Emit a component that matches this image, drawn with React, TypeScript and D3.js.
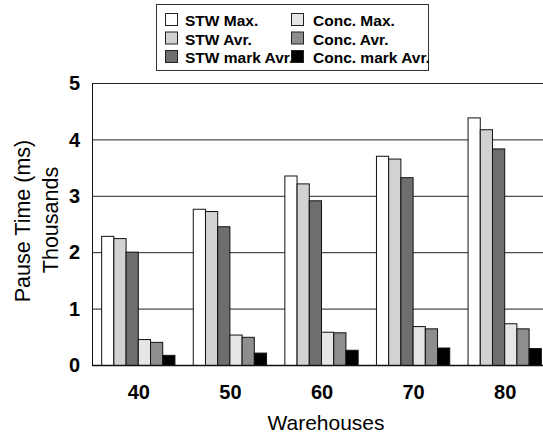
import { useEffect, useRef } from "react";
import * as d3 from "d3";

const warehouses = ["40", "50", "60", "70", "80"];
const seriesNames = [
  "STW Max.",
  "STW Avr.",
  "STW mark Avr.",
  "Conc. Max.",
  "Conc. Avr.",
  "Conc. mark Avr.",
];
const seriesColors = ["#ffffff", "#d2d2d2", "#6e6e6e", "#e6e6e6", "#8e8e8e", "#000000"];
// values in thousands of ms, one array per series
const stwMax = [2.29, 2.77, 3.36, 3.71, 4.39];
const stwAvr = [2.25, 2.73, 3.22, 3.66, 4.18];
const stwMarkAvr = [2.01, 2.46, 2.92, 3.33, 3.84];
const concMax = [0.46, 0.54, 0.59, 0.69, 0.74];
const concAvr = [0.41, 0.5, 0.58, 0.65, 0.65];
const concMarkAvr = [0.18, 0.22, 0.27, 0.31, 0.3];
const yTicks = [0, 1, 2, 3, 4, 5];

const App = () => {
  const ref = useRef<SVGSVGElement>(null);

  useEffect(() => {
    const svg = d3.select(ref.current);
    svg.selectAll("*").remove();
    const font = "'Liberation Sans', Arial, sans-serif";
    const allSeries = [stwMax, stwAvr, stwMarkAvr, concMax, concAvr, concMarkAvr];

    const x = d3.scaleBand().domain(warehouses).range([92, 550]).paddingInner(0.2).paddingOuter(0.1);
    const xInner = d3.scaleBand().domain(seriesNames).range([0, x.bandwidth()]);
    const y = d3.scaleLinear().domain([0, 5]).range([365, 83]);

    // grid lines
    svg
      .append("g")
      .selectAll("line")
      .data(yTicks.slice(1))
      .enter()
      .append("line")
      .attr("x1", 92)
      .attr("x2", 550)
      .attr("y1", (d) => y(d) + 0.5)
      .attr("y2", (d) => y(d) + 0.5)
      .attr("stroke", "#222")
      .attr("stroke-width", 1);

    // bars
    const groups = svg
      .append("g")
      .selectAll("g")
      .data(warehouses)
      .enter()
      .append("g")
      .attr("transform", (d) => `translate(${x(d)},0)`);
    groups
      .selectAll("rect")
      .data((_, i) => seriesNames.map((s, j) => ({ s, j, v: allSeries[j][i] })))
      .enter()
      .append("rect")
      .attr("x", (d) => xInner(d.s)! + 0.5)
      .attr("y", (d) => y(d.v) + 0.5)
      .attr("width", xInner.bandwidth())
      .attr("height", (d) => y(0) - y(d.v))
      .attr("fill", (d) => seriesColors[d.j])
      .attr("stroke", "#111")
      .attr("stroke-width", 1);

    // axes lines
    svg.append("line").attr("x1", 92.5).attr("x2", 92.5).attr("y1", 83).attr("y2", 366).attr("stroke", "#111");
    svg.append("line").attr("x1", 92).attr("x2", 550).attr("y1", 365.5).attr("y2", 365.5).attr("stroke", "#111").attr("stroke-width", 1.5);

    // y tick labels
    svg
      .append("g")
      .selectAll("text")
      .data(yTicks)
      .enter()
      .append("text")
      .attr("x", 80)
      .attr("y", (d) => y(d))
      .attr("dy", "0.36em")
      .attr("text-anchor", "end")
      .attr("font-family", font)
      .attr("font-weight", "bold")
      .attr("font-size", 20)
      .text((d) => d);

    // x tick labels
    svg
      .append("g")
      .selectAll("text")
      .data(warehouses)
      .enter()
      .append("text")
      .attr("x", (d) => x(d)! + x.bandwidth() / 2 + 1)
      .attr("y", 399)
      .attr("text-anchor", "middle")
      .attr("font-family", font)
      .attr("font-weight", "bold")
      .attr("font-size", 20)
      .text((d) => d);

    svg
      .append("text")
      .attr("x", 326)
      .attr("y", 430)
      .attr("text-anchor", "middle")
      .attr("font-family", font)
      .attr("font-size", 21)
      .text("Warehouses");

    svg
      .append("text")
      .attr("transform", "translate(30,221) rotate(-90)")
      .attr("text-anchor", "middle")
      .attr("font-family", font)
      .attr("font-size", 21.5)
      .text("Pause Time (ms)");
    svg
      .append("text")
      .attr("transform", "translate(58,220) rotate(-90)")
      .attr("text-anchor", "middle")
      .attr("font-family", font)
      .attr("font-size", 21.5)
      .text("Thousands");

    // legend
    const legend = svg.append("g");
    legend
      .append("rect")
      .attr("x", 156.5)
      .attr("y", 4.5)
      .attr("width", 272)
      .attr("height", 66)
      .attr("fill", "#fff")
      .attr("stroke", "#333");
    const rows = [13, 31.5, 50];
    const items = legend
      .selectAll("g")
      .data(seriesNames)
      .enter()
      .append("g")
      .attr("transform", (_, i) => `translate(${i < 3 ? 165 : 291},${rows[i % 3]})`);
    items
      .append("rect")
      .attr("x", 0.5)
      .attr("y", 0.5)
      .attr("width", 12)
      .attr("height", 12)
      .attr("fill", (_, i) => seriesColors[i])
      .attr("stroke", "#222");
    items
      .append("text")
      .attr("x", (_, i) => (i < 3 ? 20 : 22))
      .attr("y", 13)
      .attr("font-family", font)
      .attr("font-weight", "bold")
      .attr("font-size", 15.5)
      .text((d) => d);
  }, []);

  return (
    <div style={{ position: "absolute", left: 0, top: 0 }}>
      <svg ref={ref} width={543} height={435} style={{ display: "block", background: "#fff" }} />
    </div>
  );
};

export default App;
